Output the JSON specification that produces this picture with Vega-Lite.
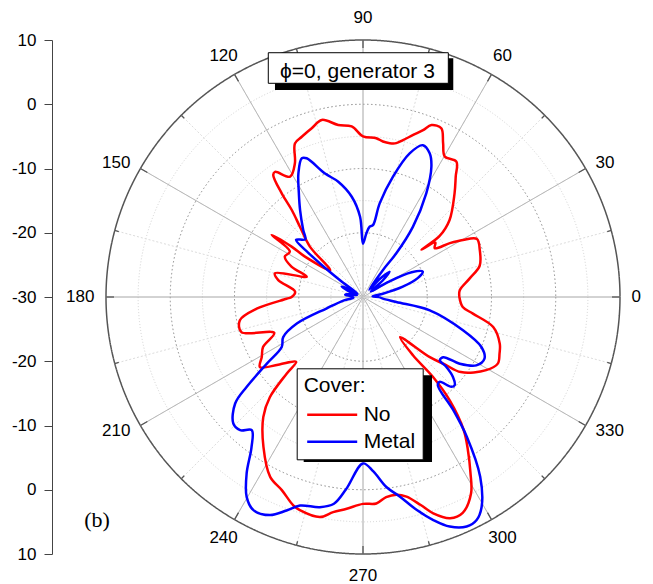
{
  "$schema": "https://vega.github.io/schema/vega-lite/v6.json",
  "width": 514,
  "height": 514,
  "autosize": "none",
  "padding": {"left": 106, "top": 40, "right": 33, "bottom": 30},
  "background": "white",
  "config": {"view": {"stroke": null}, "font": "Liberation Sans"},
  "datasets": {
    "rings": [
      {"level": -25, "kind": "minor"}, {"level": -20, "kind": "major"}, {"level": -15, "kind": "minor"},
      {"level": -10, "kind": "major"}, {"level": -5, "kind": "minor"}, {"level": 0, "kind": "major"},
      {"level": 5, "kind": "minor"}, {"level": 10, "kind": "outer"}
    ],
    "spokes": [
      {"a": 0, "kind": "major"}, {"a": 15, "kind": "minor"}, {"a": 30, "kind": "major"}, {"a": 45, "kind": "minor"},
      {"a": 60, "kind": "major"}, {"a": 75, "kind": "minor"}, {"a": 90, "kind": "major"}, {"a": 105, "kind": "minor"},
      {"a": 120, "kind": "major"}, {"a": 135, "kind": "minor"}, {"a": 150, "kind": "major"}, {"a": 165, "kind": "minor"},
      {"a": 180, "kind": "major"}, {"a": 195, "kind": "minor"}, {"a": 210, "kind": "major"}, {"a": 225, "kind": "minor"},
      {"a": 240, "kind": "major"}, {"a": 255, "kind": "minor"}, {"a": 270, "kind": "major"}, {"a": 285, "kind": "minor"},
      {"a": 300, "kind": "major"}, {"a": 315, "kind": "minor"}, {"a": 330, "kind": "major"}, {"a": 345, "kind": "minor"}
    ],
    "angles": [
      {"a": 0}, {"a": 30}, {"a": 60}, {"a": 90}, {"a": 120}, {"a": 150},
      {"a": 180}, {"a": 210}, {"a": 240}, {"a": 270}, {"a": 300}, {"a": 330}
    ],
    "pattern": [
      {"s": "No", "i": 0, "a": 0, "r": -15.0}, {"s": "No", "i": 1, "a": 4, "r": -14.9}, {"s": "No", "i": 2, "a": 10, "r": -13.1},
      {"s": "No", "i": 3, "a": 15, "r": -11.2}, {"s": "No", "i": 4, "a": 22, "r": -10.4}, {"s": "No", "i": 5, "a": 27, "r": -10.1},
      {"s": "No", "i": 6, "a": 29.7, "r": -12.1}, {"s": "No", "i": 7, "a": 31.8, "r": -14.1}, {"s": "No", "i": 8, "a": 34.2, "r": -16.5},
      {"s": "No", "i": 9, "a": 37, "r": -15.9}, {"s": "No", "i": 10, "a": 39, "r": -18.3}, {"s": "No", "i": 11, "a": 38.5, "r": -14.8},
      {"s": "No", "i": 12, "a": 41.6, "r": -12.0}, {"s": "No", "i": 13, "a": 48.5, "r": -8.5}, {"s": "No", "i": 14, "a": 52.4, "r": -6.35},
      {"s": "No", "i": 15, "a": 55.4, "r": -4.4}, {"s": "No", "i": 16, "a": 59.8, "r": -4.7}, {"s": "No", "i": 17, "a": 62.5, "r": -3.0},
      {"s": "No", "i": 18, "a": 65.1, "r": -1.05}, {"s": "No", "i": 19, "a": 68.3, "r": -1.2}, {"s": "No", "i": 20, "a": 70.2, "r": -2.4},
      {"s": "No", "i": 21, "a": 72.8, "r": -3.6}, {"s": "No", "i": 22, "a": 75.7, "r": -4.8}, {"s": "No", "i": 23, "a": 77.8, "r": -5.5},
      {"s": "No", "i": 24, "a": 80.1, "r": -5.7}, {"s": "No", "i": 25, "a": 82.7, "r": -5.6}, {"s": "No", "i": 26, "a": 85.2, "r": -5.2},
      {"s": "No", "i": 27, "a": 90, "r": -5.0}, {"s": "No", "i": 28, "a": 93.8, "r": -3.4}, {"s": "No", "i": 29, "a": 98.2, "r": -2.95},
      {"s": "No", "i": 30, "a": 103.1, "r": -1.7}, {"s": "No", "i": 31, "a": 106.9, "r": -2.55}, {"s": "No", "i": 32, "a": 110.9, "r": -3.3},
      {"s": "No", "i": 33, "a": 113.9, "r": -3.85}, {"s": "No", "i": 34, "a": 117, "r": -6.65}, {"s": "No", "i": 35, "a": 121.2, "r": -8.1},
      {"s": "No", "i": 36, "a": 125.1, "r": -6.2}, {"s": "No", "i": 37, "a": 126.3, "r": -6.4}, {"s": "No", "i": 38, "a": 128.1, "r": -9.5},
      {"s": "No", "i": 39, "a": 129.3, "r": -12.5}, {"s": "No", "i": 40, "a": 131.9, "r": -15.3}, {"s": "No", "i": 41, "a": 136.5, "r": -18.6},
      {"s": "No", "i": 42, "a": 140.7, "r": -23.4}, {"s": "No", "i": 43, "a": 145.2, "r": -19.0}, {"s": "No", "i": 44, "a": 144.8, "r": -16.4},
      {"s": "No", "i": 45, "a": 145.8, "r": -12.8}, {"s": "No", "i": 46, "a": 148.2, "r": -16.6}, {"s": "No", "i": 47, "a": 152.7, "r": -16.3},
      {"s": "No", "i": 48, "a": 157, "r": -17.9}, {"s": "No", "i": 49, "a": 160.2, "r": -20.7}, {"s": "No", "i": 50, "a": 164.9, "r": -15.8},
      {"s": "No", "i": 51, "a": 168.7, "r": -16.55}, {"s": "No", "i": 52, "a": 175.5, "r": -19.4}, {"s": "No", "i": 53, "a": 180, "r": -18.9},
      {"s": "No", "i": 54, "a": 181.3, "r": -18.1}, {"s": "No", "i": 55, "a": 186.3, "r": -13.35}, {"s": "No", "i": 56, "a": 190.7, "r": -10.5},
      {"s": "No", "i": 57, "a": 196.1, "r": -10.3}, {"s": "No", "i": 58, "a": 202, "r": -15.1}, {"s": "No", "i": 59, "a": 206.6, "r": -12.6},
      {"s": "No", "i": 60, "a": 210.6, "r": -11.7}, {"s": "No", "i": 61, "a": 214.2, "r": -10.6}, {"s": "No", "i": 62, "a": 218.6, "r": -13.1},
      {"s": "No", "i": 63, "a": 224.1, "r": -15.5}, {"s": "No", "i": 64, "a": 225.1, "r": -13.2}, {"s": "No", "i": 65, "a": 227.1, "r": -8.7},
      {"s": "No", "i": 66, "a": 230.3, "r": -5.7}, {"s": "No", "i": 67, "a": 236.4, "r": -2.0}, {"s": "No", "i": 68, "a": 242.7, "r": 1.5},
      {"s": "No", "i": 69, "a": 247.2, "r": 2.6}, {"s": "No", "i": 70, "a": 251.5, "r": 4.2}, {"s": "No", "i": 71, "a": 253.5, "r": 4.6},
      {"s": "No", "i": 72, "a": 258.9, "r": 4.9}, {"s": "No", "i": 73, "a": 262.1, "r": 3.8}, {"s": "No", "i": 74, "a": 265.6, "r": 3.05},
      {"s": "No", "i": 75, "a": 270, "r": 2.2}, {"s": "No", "i": 76, "a": 273.7, "r": 2.2}, {"s": "No", "i": 77, "a": 276.6, "r": 1.35},
      {"s": "No", "i": 78, "a": 279.6, "r": 1.2}, {"s": "No", "i": 79, "a": 282.3, "r": 1.8}, {"s": "No", "i": 80, "a": 285.5, "r": 3.6},
      {"s": "No", "i": 81, "a": 288, "r": 5.4}, {"s": "No", "i": 82, "a": 291.5, "r": 7.0}, {"s": "No", "i": 83, "a": 294.8, "r": 7.0},
      {"s": "No", "i": 84, "a": 298.8, "r": 4.9}, {"s": "No", "i": 85, "a": 301.5, "r": 2.0}, {"s": "No", "i": 86, "a": 304.5, "r": -1.2},
      {"s": "No", "i": 87, "a": 307.1, "r": -4.0}, {"s": "No", "i": 88, "a": 310, "r": -9.0}, {"s": "No", "i": 89, "a": 311.2, "r": -13.5},
      {"s": "No", "i": 90, "a": 310.6, "r": -18.0}, {"s": "No", "i": 91, "a": 312.7, "r": -21.5}, {"s": "No", "i": 92, "a": 318, "r": -16.0},
      {"s": "No", "i": 93, "a": 320.5, "r": -13.5}, {"s": "No", "i": 94, "a": 322.5, "r": -10.8}, {"s": "No", "i": 95, "a": 329.3, "r": -7.7},
      {"s": "No", "i": 96, "a": 333.7, "r": -6.6}, {"s": "No", "i": 97, "a": 337.5, "r": -7.0}, {"s": "No", "i": 98, "a": 341.1, "r": -7.5},
      {"s": "No", "i": 99, "a": 347, "r": -9.2}, {"s": "No", "i": 100, "a": 351.4, "r": -12.7}, {"s": "No", "i": 101, "a": 354.3, "r": -14.4},
      {"s": "No", "i": 102, "a": 360, "r": -15.0},

      {"s": "Metal", "i": 0, "a": 0, "r": -27.5}, {"s": "Metal", "i": 1, "a": 4, "r": -28.5}, {"s": "Metal", "i": 2, "a": 9, "r": -27},
      {"s": "Metal", "i": 3, "a": 14.5, "r": -23.6}, {"s": "Metal", "i": 4, "a": 19, "r": -21}, {"s": "Metal", "i": 5, "a": 23, "r": -19.9},
      {"s": "Metal", "i": 6, "a": 27, "r": -21.5}, {"s": "Metal", "i": 7, "a": 31, "r": -25.5}, {"s": "Metal", "i": 8, "a": 35, "r": -28.5},
      {"s": "Metal", "i": 9, "a": 40, "r": -26}, {"s": "Metal", "i": 10, "a": 43.5, "r": -24.3}, {"s": "Metal", "i": 11, "a": 47, "r": -26},
      {"s": "Metal", "i": 12, "a": 50, "r": -28.5}, {"s": "Metal", "i": 13, "a": 53.5, "r": -24.8}, {"s": "Metal", "i": 14, "a": 52.7, "r": -21.45},
      {"s": "Metal", "i": 15, "a": 54.6, "r": -16.6}, {"s": "Metal", "i": 16, "a": 58.6, "r": -11.1}, {"s": "Metal", "i": 17, "a": 62.3, "r": -7.1},
      {"s": "Metal", "i": 18, "a": 65.1, "r": -5.35}, {"s": "Metal", "i": 19, "a": 68.5, "r": -4.6}, {"s": "Metal", "i": 20, "a": 72, "r": -6.5},
      {"s": "Metal", "i": 21, "a": 76, "r": -10.7}, {"s": "Metal", "i": 22, "a": 79.9, "r": -15.2}, {"s": "Metal", "i": 23, "a": 82.1, "r": -18.7},
      {"s": "Metal", "i": 24, "a": 84.6, "r": -19.0}, {"s": "Metal", "i": 25, "a": 87, "r": -20.1}, {"s": "Metal", "i": 26, "a": 90, "r": -21.7},
      {"s": "Metal", "i": 27, "a": 92.1, "r": -17.5}, {"s": "Metal", "i": 28, "a": 96.4, "r": -14.3}, {"s": "Metal", "i": 29, "a": 102.1, "r": -11.65},
      {"s": "Metal", "i": 30, "a": 107.1, "r": -9.9}, {"s": "Metal", "i": 31, "a": 112.1, "r": -6.7}, {"s": "Metal", "i": 32, "a": 113.8, "r": -6.4},
      {"s": "Metal", "i": 33, "a": 117.6, "r": -8.3}, {"s": "Metal", "i": 34, "a": 121.7, "r": -11.0}, {"s": "Metal", "i": 35, "a": 125.9, "r": -13.3},
      {"s": "Metal", "i": 36, "a": 131.7, "r": -16.0}, {"s": "Metal", "i": 37, "a": 135, "r": -17.3}, {"s": "Metal", "i": 38, "a": 139.5, "r": -16.3},
      {"s": "Metal", "i": 39, "a": 141, "r": -19}, {"s": "Metal", "i": 40, "a": 142.5, "r": -22.7}, {"s": "Metal", "i": 41, "a": 144, "r": -26},
      {"s": "Metal", "i": 42, "a": 147, "r": -29}, {"s": "Metal", "i": 43, "a": 151, "r": -27.3}, {"s": "Metal", "i": 44, "a": 154, "r": -26.3},
      {"s": "Metal", "i": 45, "a": 158, "r": -27.5}, {"s": "Metal", "i": 46, "a": 163, "r": -29}, {"s": "Metal", "i": 47, "a": 168, "r": -27.8},
      {"s": "Metal", "i": 48, "a": 173, "r": -27.2}, {"s": "Metal", "i": 49, "a": 178, "r": -28.3}, {"s": "Metal", "i": 50, "a": 184, "r": -28.5},
      {"s": "Metal", "i": 51, "a": 190, "r": -27}, {"s": "Metal", "i": 52, "a": 197.3, "r": -24.1}, {"s": "Metal", "i": 53, "a": 201.9, "r": -18.9},
      {"s": "Metal", "i": 54, "a": 206.7, "r": -16.1}, {"s": "Metal", "i": 55, "a": 211.6, "r": -15.15}, {"s": "Metal", "i": 56, "a": 214.7, "r": -11.8},
      {"s": "Metal", "i": 57, "a": 217.7, "r": -7.1}, {"s": "Metal", "i": 58, "a": 219.8, "r": -4.1}, {"s": "Metal", "i": 59, "a": 224.3, "r": -1.8},
      {"s": "Metal", "i": 60, "a": 227.3, "r": -1.8}, {"s": "Metal", "i": 61, "a": 230.1, "r": -3.0}, {"s": "Metal", "i": 62, "a": 233.4, "r": -0.9},
      {"s": "Metal", "i": 63, "a": 236.6, "r": 2.9}, {"s": "Metal", "i": 64, "a": 239.8, "r": 6.0}, {"s": "Metal", "i": 65, "a": 242.8, "r": 7.3},
      {"s": "Metal", "i": 66, "a": 246.9, "r": 6.9}, {"s": "Metal", "i": 67, "a": 250.3, "r": 5.3}, {"s": "Metal", "i": 68, "a": 253.2, "r": 3.9},
      {"s": "Metal", "i": 69, "a": 258.4, "r": 3.4}, {"s": "Metal", "i": 70, "a": 262, "r": 2.5}, {"s": "Metal", "i": 71, "a": 265, "r": 0.0},
      {"s": "Metal", "i": 72, "a": 270, "r": -4.1}, {"s": "Metal", "i": 73, "a": 273.4, "r": -2.8}, {"s": "Metal", "i": 74, "a": 277, "r": -0.2},
      {"s": "Metal", "i": 75, "a": 280.5, "r": 1.6}, {"s": "Metal", "i": 76, "a": 284.2, "r": 4.2}, {"s": "Metal", "i": 77, "a": 287.5, "r": 6.4},
      {"s": "Metal", "i": 78, "a": 290.7, "r": 8.2}, {"s": "Metal", "i": 79, "a": 294.3, "r": 9.2}, {"s": "Metal", "i": 80, "a": 297, "r": 8.96},
      {"s": "Metal", "i": 81, "a": 299.5, "r": 7.5}, {"s": "Metal", "i": 82, "a": 303.1, "r": 3.4}, {"s": "Metal", "i": 83, "a": 306.6, "r": -2.9},
      {"s": "Metal", "i": 84, "a": 308.6, "r": -7.5}, {"s": "Metal", "i": 85, "a": 310.3, "r": -12.0}, {"s": "Metal", "i": 86, "a": 312.1, "r": -12.2},
      {"s": "Metal", "i": 87, "a": 314.5, "r": -10.4}, {"s": "Metal", "i": 88, "a": 316.1, "r": -10.2}, {"s": "Metal", "i": 89, "a": 318.4, "r": -11.3},
      {"s": "Metal", "i": 90, "a": 320, "r": -13.1}, {"s": "Metal", "i": 91, "a": 320.5, "r": -14.5}, {"s": "Metal", "i": 92, "a": 323.1, "r": -14.4},
      {"s": "Metal", "i": 93, "a": 325.4, "r": -11.7}, {"s": "Metal", "i": 94, "a": 328.9, "r": -9.4}, {"s": "Metal", "i": 95, "a": 333.1, "r": -8.8},
      {"s": "Metal", "i": 96, "a": 337.1, "r": -10.0}, {"s": "Metal", "i": 97, "a": 341.6, "r": -13.6}, {"s": "Metal", "i": 98, "a": 348.7, "r": -19.4},
      {"s": "Metal", "i": 99, "a": 351.5, "r": -24.75}, {"s": "Metal", "i": 100, "a": 356, "r": -27}, {"s": "Metal", "i": 101, "a": 360, "r": -27.5}
    ]
  },
  "layer": [
    {
      "data": {"name": "rings"},
      "transform": [
        {"calculate": "0", "as": "cx"},
        {"calculate": "0", "as": "cy"}
      ],
      "mark": {"type": "point", "shape": "circle", "filled": false, "opacity": 1},
      "encoding": {
        "x": {"field": "cx", "type": "quantitative", "scale": {"domain": [-40, 40], "nice": false, "zero": false}, "axis": null},
        "y": {"field": "cy", "type": "quantitative", "scale": {"domain": [-40, 40], "nice": false, "zero": false}, "title": null},
        "size": {
          "field": "level", "type": "quantitative",
          "scale": {"type": "threshold", "domain": [-22.5, -17.5, -12.5, -7.5, -2.5, 2.5, 7.5], "range": [4128, 16512, 37153, 66049, 103202, 148610, 202275, 264196]},
          "legend": null
        },
        "stroke": {"condition": [{"test": "datum.kind === 'outer'", "value": "#555555"}, {"test": "datum.kind === 'minor'", "value": "#d2d2d2"}], "value": "#8a8a8a"},
        "strokeDash": {"condition": [{"test": "datum.kind === 'outer'", "value": [1, 0]}, {"test": "datum.kind === 'minor'", "value": [1, 2]}], "value": [1.5, 2.5]},
        "strokeWidth": {"condition": {"test": "datum.kind === 'outer'", "value": 1.5}, "value": 1}
      }
    },
    {
      "data": {"name": "spokes"},
      "transform": [
        {"calculate": "0", "as": "xs"},
        {"calculate": "0", "as": "ys"},
        {"calculate": "40*cos(datum.a*PI/180)", "as": "xe"},
        {"calculate": "40*sin(datum.a*PI/180)", "as": "ye"}
      ],
      "mark": {"type": "rule"},
      "encoding": {
        "x": {"field": "xs", "type": "quantitative", "axis": null},
        "y": {"field": "ys", "type": "quantitative", "title": null},
        "x2": {"field": "xe"},
        "y2": {"field": "ye"},
        "stroke": {"condition": {"test": "datum.kind === 'minor'", "value": "#dcdcdc"}, "value": "#a6a6a6"},
        "strokeDash": {"condition": {"test": "datum.kind === 'minor'", "value": [2, 2]}, "value": [1, 0]},
        "strokeWidth": {"value": 1}
      }
    },
    {
      "data": {"name": "spokes"},
      "transform": [
        {"calculate": "datum.kind === 'major' ? 38.75 : 39.35", "as": "r1"},
        {"calculate": "datum.r1*cos(datum.a*PI/180)", "as": "xs"},
        {"calculate": "datum.r1*sin(datum.a*PI/180)", "as": "ys"},
        {"calculate": "40*cos(datum.a*PI/180)", "as": "xe"},
        {"calculate": "40*sin(datum.a*PI/180)", "as": "ye"}
      ],
      "mark": {"type": "rule", "color": "#555555", "strokeWidth": 1.3},
      "encoding": {
        "x": {"field": "xs", "type": "quantitative", "axis": null},
        "y": {"field": "ys", "type": "quantitative", "title": null},
        "x2": {"field": "xe"},
        "y2": {"field": "ye"}
      }
    },
    {
      "data": {"name": "pattern"},
      "transform": [
        {"calculate": "(datum.r+30)*cos(datum.a*PI/180)", "as": "px"},
        {"calculate": "(datum.r+30)*sin(datum.a*PI/180)", "as": "py"}
      ],
      "mark": {"type": "line", "strokeWidth": 2.5, "interpolate": "catmull-rom"},
      "encoding": {
        "x": {"field": "px", "type": "quantitative", "scale": {"domain": [-40, 40], "nice": false, "zero": false}, "axis": null},
        "y": {
          "field": "py", "type": "quantitative", "title": null,
          "scale": {"domain": [-40, 40], "nice": false, "zero": false},
          "axis": {
            "title": null,
            "values": [-40, -35, -30, -25, -20, -15, -10, -5, 0, 5, 10, 15, 20, 25, 30, 35, 40],
            "labelExpr": "datum.value % 10 === 0 ? '' + (abs(datum.value) - 30) : ''",
            "offset": 54,
            "grid": false,
            "domainColor": "#444444",
            "tickColor": "#444444",
            "tickSize": {"condition": {"test": "datum.value % 10 === 0", "value": 8}, "value": 4},
            "labelFontSize": 17,
            "labelFont": "Liberation Sans",
            "labelColor": "#000000",
            "labelPadding": 8,
            "labelOverlap": false,
            "labelFlush": false,
            "labelBound": false
          }
        },
        "color": {
          "field": "s", "type": "nominal",
          "scale": {"domain": ["No", "Metal"], "range": ["#ff0000", "#0000ff"]},
          "legend": {
            "orient": "none", "legendX": 190.7, "legendY": 328.3, "direction": "vertical",
            "title": "Cover:", "titleFontSize": 21, "titleFontWeight": "normal", "titleColor": "#000000",
            "titleFont": "Liberation Sans", "titlePadding": 7,
            "labelFontSize": 21, "labelFont": "Liberation Sans", "labelColor": "#000000", "labelOffset": 37,
            "symbolType": "M-0.8,0H4.2", "symbolStrokeWidth": 2.5, "symbolSize": 400,
            "rowPadding": 5, "padding": 7, "fillColor": "white", "strokeColor": "#000000", "zindex": 1
          }
        },
        "order": {"field": "i", "type": "quantitative"}
      }
    },
    {
      "data": {"values": [{"box": "legend shadow"}]},
      "transform": [
        {"calculate": "-9.23", "as": "x1"}, {"calculate": "10.74", "as": "x2"},
        {"calculate": "-12.19", "as": "y1"}, {"calculate": "-25.68", "as": "y2"}
      ],
      "mark": {"type": "rect", "color": "#000000"},
      "encoding": {
        "x": {"field": "x1", "type": "quantitative", "axis": null},
        "x2": {"field": "x2"},
        "y": {"field": "y1", "type": "quantitative", "title": null},
        "y2": {"field": "y2"}
      }
    },
    {
      "data": {"values": [{"box": "title shadow"}]},
      "transform": [
        {"calculate": "-13.7", "as": "x1"}, {"calculate": "14.05", "as": "x2"},
        {"calculate": "37.15", "as": "y1"}, {"calculate": "32.2", "as": "y2"}
      ],
      "mark": {"type": "rect", "color": "#000000"},
      "encoding": {
        "x": {"field": "x1", "type": "quantitative", "axis": null},
        "x2": {"field": "x2"},
        "y": {"field": "y1", "type": "quantitative", "title": null},
        "y2": {"field": "y2"}
      }
    },
    {
      "data": {"values": [{"box": "title"}]},
      "transform": [
        {"calculate": "-14.74", "as": "x1"}, {"calculate": "13.28", "as": "x2"},
        {"calculate": "38.02", "as": "y1"}, {"calculate": "33.26", "as": "y2"}
      ],
      "mark": {"type": "rect", "fill": "white", "stroke": "#000000", "strokeWidth": 1},
      "encoding": {
        "x": {"field": "x1", "type": "quantitative", "axis": null},
        "x2": {"field": "x2"},
        "y": {"field": "y1", "type": "quantitative", "title": null},
        "y2": {"field": "y2"}
      }
    },
    {
      "data": {"values": [{"t": "ϕ=0, generator 3"}]},
      "transform": [{"calculate": "-0.86", "as": "tx"}, {"calculate": "35.07", "as": "ty"}],
      "mark": {"type": "text", "font": "Liberation Sans", "fontSize": 21, "color": "#000000", "align": "center", "baseline": "middle"},
      "encoding": {
        "x": {"field": "tx", "type": "quantitative", "axis": null},
        "y": {"field": "ty", "type": "quantitative", "title": null},
        "text": {"field": "t", "type": "nominal"}
      }
    },
    {
      "data": {"name": "angles"},
      "transform": [
        {"filter": {"field": "a", "oneOf": [0, 30, 330]}},
        {"calculate": "41.8*cos(datum.a*PI/180)", "as": "tx"},
        {"calculate": "41.8*sin(datum.a*PI/180)", "as": "ty"}
      ],
      "mark": {"type": "text", "font": "Liberation Sans", "fontSize": 17, "color": "#000000", "align": "left", "baseline": "middle"},
      "encoding": {
        "x": {"field": "tx", "type": "quantitative", "axis": null},
        "y": {"field": "ty", "type": "quantitative", "title": null},
        "text": {"field": "a", "type": "nominal"}
      }
    },
    {
      "data": {"name": "angles"},
      "transform": [
        {"filter": {"field": "a", "oneOf": [150, 180, 210]}},
        {"calculate": "41.8*cos(datum.a*PI/180)", "as": "tx"},
        {"calculate": "41.8*sin(datum.a*PI/180)", "as": "ty"}
      ],
      "mark": {"type": "text", "font": "Liberation Sans", "fontSize": 17, "color": "#000000", "align": "right", "baseline": "middle"},
      "encoding": {
        "x": {"field": "tx", "type": "quantitative", "axis": null},
        "y": {"field": "ty", "type": "quantitative", "title": null},
        "text": {"field": "a", "type": "nominal"}
      }
    },
    {
      "data": {"name": "angles"},
      "transform": [
        {"filter": {"field": "a", "oneOf": [60, 90, 120, 240, 270, 300]}},
        {"calculate": "43.4*cos(datum.a*PI/180)", "as": "tx"},
        {"calculate": "43.4*sin(datum.a*PI/180)", "as": "ty"}
      ],
      "mark": {"type": "text", "font": "Liberation Sans", "fontSize": 17, "color": "#000000", "align": "center", "baseline": "middle"},
      "encoding": {
        "x": {"field": "tx", "type": "quantitative", "axis": null},
        "y": {"field": "ty", "type": "quantitative", "title": null},
        "text": {"field": "a", "type": "nominal"}
      }
    },
    {
      "data": {"values": [{"t": "(b)"}]},
      "transform": [{"calculate": "-41.4", "as": "tx"}, {"calculate": "-34.7", "as": "ty"}],
      "mark": {"type": "text", "font": "Liberation Serif", "fontSize": 22, "color": "#000000", "align": "center", "baseline": "middle"},
      "encoding": {
        "x": {"field": "tx", "type": "quantitative", "axis": null},
        "y": {"field": "ty", "type": "quantitative", "title": null},
        "text": {"field": "t", "type": "nominal"}
      }
    }
  ]
}
